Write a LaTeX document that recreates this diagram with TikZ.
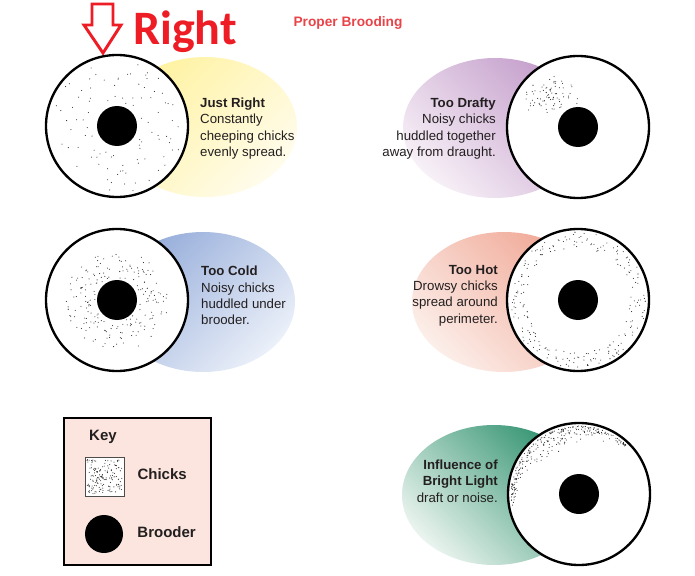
\documentclass[tikz,border=0pt]{standalone}
\usepackage{fontspec}
\setmainfont{Liberation Sans}
\newfontfamily\calibri{Carlito}
\usetikzlibrary{positioning,calc}

\definecolor{titlered}{RGB}{232,67,72}
\definecolor{arrowred}{RGB}{238,28,36}
\definecolor{keypink}{RGB}{251,229,222}
\definecolor{inktext}{RGB}{35,31,32}
\definecolor{yellowdark}{RGB}{255,242,160}
\definecolor{yellowlight}{RGB}{255,252,236}
\definecolor{purpledark}{RGB}{196,158,203}
\definecolor{purplelight}{RGB}{247,240,247}
\definecolor{bluedark}{RGB}{150,173,218}
\definecolor{bluelight}{RGB}{235,240,249}
\definecolor{salmondark}{RGB}{240,168,150}
\definecolor{salmonlight}{RGB}{252,238,233}
\definecolor{greendark}{RGB}{52,148,114}
\definecolor{greenlight}{RGB}{234,244,239}

\tikzset{
  glow/.style n args={3}{top color=#1, bottom color=#2, shading angle=#3},
  pen/.style={draw=black, line width=2pt, fill=white},
  chick/.style={fill=black!85},
  note/.style={font=\fontsize{11.3}{13.9}\selectfont, text=inktext, inner sep=0pt},
  keytext/.style={font=\bfseries\fontsize{12.8}{15}\selectfont, text=inktext, inner sep=0pt},
}

\begin{document}
\begin{tikzpicture}[x=0.03cm, y=0.03cm]
\useasboundingbox (0,0) rectangle (695,575);

\draw[arrowred, line width=2.5pt, line join=miter]
  (92,571) -- (113,571) -- (113,550) -- (121,550) -- (103,522) -- (84,550) -- (92,550) -- cycle;
\node[font=\calibri\bfseries\fontsize{41}{45}\selectfont, text=arrowred,
  anchor=base west, inner sep=0pt] (right) at (133,530) {Right};
\node[font=\bfseries\fontsize{11.7}{14}\selectfont, text=titlered] (title) at (348,552) {Proper Brooding};

\coordinate (jr) at (117,449);
\coordinate (td) at (578,448);
\coordinate (tc) at (117,275);
\coordinate (th) at (578,275);
\coordinate (bl) at (579,81);

% just right
\shade[glow={yellowdark}{yellowlight}{45}] ($(jr)+(88,-1)$) ellipse [x radius=92, y radius=70];
\draw[pen] (jr) circle (71);
\pgfmathsetseed{7}
\foreach \i in {1,...,95}{
  \pgfmathsetmacro\rd{sqrt(24*24+rnd*(67*67-24*24))}
  \pgfmathsetmacro\an{360*rnd}
  \fill[chick] (jr) ++(\an:\rd) circle (0.45pt);
}
\fill (jr) circle (20);
\node[note, anchor=west, align=left] (jrtext) at (200,446.5)
  {\textbf{Just Right}\\Constantly\\cheeping chicks\\evenly spread.};

% too drafty
\shade[glow={purpledark}{purplelight}{-45}] ($(td)+(-83,-1)$) ellipse [x radius=92, y radius=70];
\draw[pen] (td) circle (71);
\begin{scope}
  \clip (td) circle (66);
  \foreach \i in {1,...,85}{
    \pgfmathsetmacro\dx{-27+30*(rnd+rnd-1)}
    \pgfmathsetmacro\dy{31+26*(rnd+rnd-1)}
    \fill[chick] (td) ++(\dx,\dy) circle (0.45pt);
  }
\end{scope}
\fill (td) circle (20);
\node[note, anchor=east, align=right] (tdtext) at (496,446.5)
  {\textbf{Too Drafty}\\Noisy chicks\\huddled together\\away from draught.};

% too cold
\shade[glow={bluedark}{bluelight}{45}] ($(tc)+(86,-2)$) ellipse [x radius=92, y radius=70];
\draw[pen] (tc) circle (71);
\foreach \i in {1,...,200}{
  \pgfmathsetmacro\rd{22+29*rnd}
  \pgfmathsetmacro\an{360*rnd}
  \fill[chick] (tc) ++(\an:\rd) circle (0.45pt);
}
\fill (tc) circle (20);
\node[note, anchor=west, align=left] (tctext) at (201,279.5)
  {\textbf{Too Cold}\\Noisy chicks\\huddled under\\brooder.};

% too hot
\shade[glow={salmondark}{salmonlight}{-45}] ($(th)+(-74,-2)$) ellipse [x radius=92, y radius=70];
\draw[pen] (th) circle (71);
\foreach \i in {1,...,220}{
  \pgfmathsetmacro\rd{sqrt(52*52+rnd*(68*68-52*52))}
  \pgfmathsetmacro\an{360*rnd}
  \fill[chick] (th) ++(\an:\rd) circle (0.45pt);
}
\fill (th) circle (20);
\node[note, anchor=east, align=right] (thtext) at (498,279.5)
  {\textbf{Too Hot}\\Drowsy chicks\\spread around\\perimeter.};

% bright light
\shade[glow={greendark}{greenlight}{-45}] ($(bl)+(-85,-1)$) ellipse [x radius=92, y radius=70];
\draw[pen] (bl) circle (71);
\foreach \i in {1,...,260}{
  \pgfmathsetmacro\an{45+145*rnd}
  \pgfmathsetmacro\thk{3+19*sin((\an-45)/145*180)}
  \pgfmathsetmacro\rd{68-\thk*rnd*rnd}
  \fill[chick] (bl) ++(\an:\rd) circle (0.45pt);
}
\fill (bl) circle (20);
\node[note, anchor=east, align=right] (bltext) at (498,94)
  {\textbf{Influence of}\\\textbf{Bright Light}\\draft or noise.};

% key
\draw[line width=2.4pt, fill=keypink] (64,10) rectangle (211,157);
\node[keytext, anchor=west] (key) at (89,138) {Key};
\node[draw=black!70, line width=0.6pt, fill=white, minimum size=1.17cm, inner sep=0pt] (chk) at (104.5,98.5) {};
\foreach \i in {1,...,150}{
  \fill[chick] ({87+35*rnd},{81+35*rnd}) circle (0.45pt);
}
\node[keytext, right=0.39cm of chk, yshift=2pt] (chklabel) {Chicks};
\node[circle, fill=black, minimum size=1.14cm, inner sep=0pt] (kb) at (104,41) {};
\node[keytext, right=0.42cm of kb, yshift=2pt] (kblabel) {Brooder};
\end{tikzpicture}
\end{document}
